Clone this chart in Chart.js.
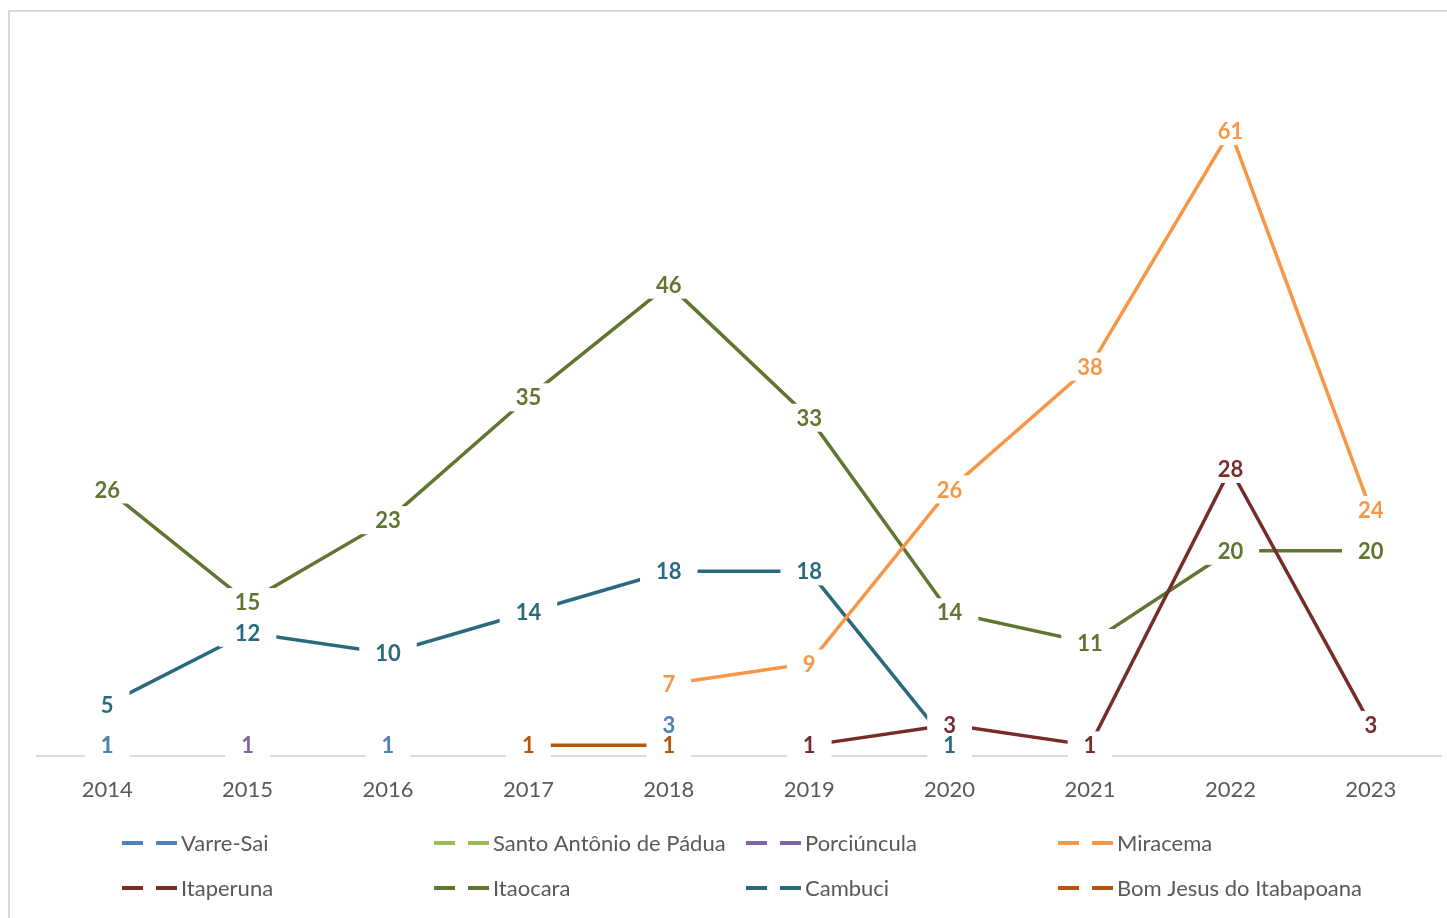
<!DOCTYPE html>
<html>
<head>
<meta charset="utf-8">
<script src="https://cdn.jsdelivr.net/npm/chart.js@4.4.1/dist/chart.umd.min.js"></script>
<style>
  html, body { margin: 0; padding: 0; background: #fff; overflow: hidden; }
  #frame { position: absolute; left: 8px; top: 10px; width: 1500px; height: 1000px; border: 2px solid #D9D9D9; box-sizing: border-box; }
  #wrap { position: absolute; left: 0; top: 0; width: 1447px; height: 918px; }
</style>
</head>
<body>
<div id="frame"></div>
<div id="wrap"><canvas id="chart" width="1447" height="918"></canvas></div>
<script>
const years = ['2014', '2015', '2016', '2017', '2018', '2019', '2020', '2021', '2022', '2023'];

const varreSai      = [1, null, 1, null, 3, null, null, null, null, null];
const santoAntonio  = [1, null, null, null, null, null, null, null, null, null];
const porciuncula   = [null, 1, null, null, null, null, null, null, null, null];
const miracema      = [null, null, null, null, 7, 9, 26, 38, 61, 24];
const itaperuna     = [null, null, null, null, null, 1, 3, 1, 28, 3];
const itaocara      = [26, 15, 23, 35, 46, 33, 14, 11, 20, 20];
const cambuci       = [5, 12, 10, 14, 18, 18, 1, null, null, null];
const bomJesus      = [null, null, null, 1, 1, null, null, null, null, null];

const seriesNames = ['Varre-Sai', 'Santo Antônio de Pádua', 'Porciúncula', 'Miracema',
                     'Itaperuna', 'Itaocara', 'Cambuci', 'Bom Jesus do Itabapoana'];
const seriesData = [varreSai, santoAntonio, porciuncula, miracema, itaperuna, itaocara, cambuci, bomJesus];
const seriesColors = ['#4F81BD', '#9BBB59', '#8064A2', '#F79646', '#772C2A', '#5F7530', '#2A6A7C', '#B65708'];

const FONT = 'Lato, "Open Sans", sans-serif';

// labels on the points, with a white box that cuts the lines underneath
const pointLabels = {
    id: 'pointLabels',
    afterDatasetsDraw(chart) {
        const ctx = chart.ctx;
        ctx.save();
        ctx.font = 'bold 22px ' + FONT;
        ctx.textAlign = 'center';
        ctx.textBaseline = 'middle';
        const items = [];
        for (let d = chart.data.datasets.length - 1; d >= 0; d--) {
            const meta = chart.getDatasetMeta(d);
            const ds = chart.data.datasets[d];
            meta.data.forEach((pt, i) => {
                const v = ds.data[i];
                if (v === null || v === undefined) return;
                items.push({x: pt.x, y: pt.y, text: String(v), color: ds.borderColor});
            });
        }
        ctx.fillStyle = '#fff';
        items.forEach(it => {
            const w = ctx.measureText(it.text).width + 32;
            ctx.fillRect(it.x - w / 2, it.y - 14, w, 28);
        });
        items.forEach(it => {
            ctx.fillStyle = it.color;
            ctx.fillText(it.text, it.x, it.y + 1);
        });
        ctx.restore();
    }
};

// legend drawn as a fixed 4-column grid
const gridLegend = {
    id: 'gridLegend',
    afterDraw(chart) {
        const ctx = chart.ctx;
        const colX = [122, 434, 746, 1058];
        const rowY = [843, 888];
        ctx.save();
        ctx.font = '22px ' + FONT;
        ctx.textBaseline = 'middle';
        ctx.textAlign = 'left';
        seriesNames.forEach((name, i) => {
            const x = colX[i % 4];
            const y = rowY[Math.floor(i / 4)];
            ctx.strokeStyle = seriesColors[i];
            ctx.lineWidth = 4;
            ctx.beginPath();
            ctx.moveTo(x, y); ctx.lineTo(x + 21, y);
            ctx.moveTo(x + 34, y); ctx.lineTo(x + 55, y);
            ctx.stroke();
            ctx.fillStyle = '#595959';
            ctx.fillText(name, x + 59, y + 1);
        });
        ctx.restore();
    }
};

const datasets = seriesNames.map((name, i) => ({
    label: name,
    data: seriesData[i],
    borderColor: seriesColors[i],
    backgroundColor: seriesColors[i],
    borderWidth: 3.5,
    pointRadius: 0,
    pointHoverRadius: 0,
    tension: 0,
    spanGaps: false
}));

new Chart(document.getElementById('chart').getContext('2d'), {
    type: 'line',
    data: { labels: years, datasets: datasets },
    options: {
        responsive: false,
        animation: false,
        layout: { padding: { left: 37, right: 6, top: 39, bottom: 94 } },
        scales: {
            x: {
                offset: true,
                grid: { display: false, drawTicks: false },
                border: { display: true, color: '#D9D9D9', width: 2 },
                ticks: { color: '#595959', font: { family: FONT, size: 22 }, padding: 21 }
            },
            y: {
                display: false,
                min: 0,
                max: 70
            }
        },
        plugins: {
            legend: { display: false },
            tooltip: { enabled: false }
        }
    },
    plugins: [pointLabels, gridLegend]
});
</script>
</body>
</html>
